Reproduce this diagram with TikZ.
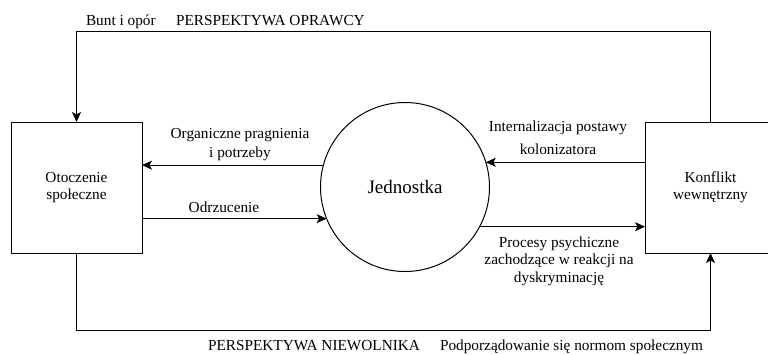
\documentclass[tikz,border=0pt]{standalone}
\usepackage{fontspec}
\setmainfont{Liberation Serif}
\usetikzlibrary{arrows.meta}
\begin{document}
\begin{tikzpicture}[x=1pt,y=-1pt,
  every node/.style={font=\fontsize{15.3}{17.5}\selectfont, inner sep=0pt, outer sep=0pt},
  boxnode/.style={draw, line width=1pt, minimum width=131pt, minimum height=131pt, align=center},
  circnode/.style={draw, circle, line width=1pt, minimum size=169pt, font=\fontsize{19}{22}\selectfont},
  link/.style={line width=1pt, -{Stealth[length=10pt,width=9pt,inset=2.5pt]}},
  lbl/.style={align=center, anchor=base}]
\clip (0,0) rectangle (768,354);
\fill[white] (0,0) rectangle (768,354);
\node[boxnode] (env) at (76.5,187.5) {Otoczenie\\społeczne};
\node[boxnode] (conf) at (710.5,187.5) {Konflikt\\wewnętrzny};
\node[circnode] (ind) at (405,187) {Jednostka};
\coordinate (topy) at (0,31);
\coordinate (boty) at (0,330);
\draw[link] (ind.165.6) -- (ind.165.6 -| env.east);
\draw[link] (ind.202.25 -| env.east) -- (ind.202.25);
\draw[link] (ind.17.9 -| conf.west) -- (ind.17.9);
\draw[link] (ind.-28.25) -- (ind.-28.25 -| conf.west);
\draw[link] (conf.north) -- (conf.north |- topy) -- (env.north |- topy) -- (env.north);
\draw[link] (env.south) -- (env.south |- boty) -- (conf.south |- boty) -- (conf.south);
\node[anchor=base west] (bunt) at (86,25) {Bunt i opór};
\node[anchor=base west] (popr) at (176,25) {PERSPEKTYWA OPRAWCY};
\node[lbl] (org) at (240,157.3) {Organiczne pragnienia\\[1.5pt]i potrzeby};
\node[lbl] (odrz) at (224,212.7) {Odrzucenie};
\node[lbl] (intern) at (558,154.3) {Internalizacja postawy\\[5pt]kolonizatora};
\node[lbl] (proc) at (559,282.3) {Procesy psychiczne\\zachodzące w reakcji na\\dyskryminację};
\node[anchor=base west] (pniew) at (208,350.5) {PERSPEKTYWA NIEWOLNIKA};
\node[anchor=base west] (podp) at (440,350.5) {Podporządowanie się normom społecznym};
\end{tikzpicture}
\end{document}
